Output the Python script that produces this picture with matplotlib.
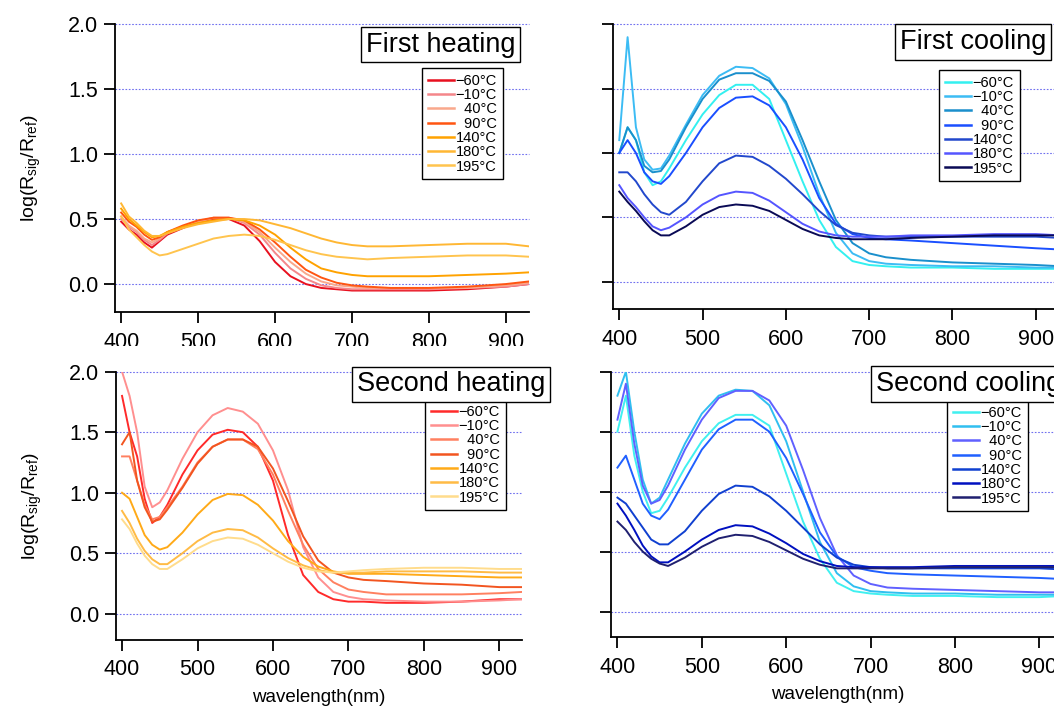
import matplotlib
matplotlib.use('Agg')
import matplotlib.pyplot as plt
from matplotlib.transforms import Bbox, TransformedBbox

plt.rcParams['font.family'] = ['Liberation Sans', 'DejaVu Sans']

# wavelength grid (nm) shared by all spectra
wl = [400, 410, 420, 430, 440, 450, 460, 480, 500, 520, 540, 560, 580,
      600, 620, 640, 660, 680, 700, 720, 750, 800, 850, 900, 930]

temps = ['\u221260\u00b0C', '\u221210\u00b0C', '\u200740\u00b0C', '\u200790\u00b0C',
         '140\u00b0C', '180\u00b0C', '195\u00b0C']

# First heating
fh_vals = [
    [0.48, 0.42, 0.38, 0.32, 0.28, 0.33, 0.38, 0.43, 0.48, 0.50, 0.50, 0.45, 0.33,
     0.17, 0.06, 0.00, -0.03, -0.04, -0.05, -0.05, -0.05, -0.05, -0.04, -0.02, 0.00],
    [0.50, 0.44, 0.40, 0.34, 0.30, 0.34, 0.39, 0.44, 0.48, 0.51, 0.51, 0.47, 0.38,
     0.24, 0.12, 0.04, -0.01, -0.03, -0.04, -0.04, -0.04, -0.04, -0.03, -0.02, 0.00],
    [0.52, 0.45, 0.41, 0.35, 0.32, 0.35, 0.40, 0.44, 0.48, 0.51, 0.51, 0.48, 0.40,
     0.28, 0.17, 0.08, 0.02, -0.01, -0.02, -0.03, -0.03, -0.03, -0.03, -0.01, 0.01],
    [0.55, 0.48, 0.44, 0.38, 0.34, 0.36, 0.40, 0.45, 0.49, 0.51, 0.51, 0.49, 0.42,
     0.32, 0.21, 0.11, 0.05, 0.01, -0.01, -0.02, -0.03, -0.03, -0.02, 0.00, 0.02],
    [0.58, 0.50, 0.45, 0.40, 0.36, 0.37, 0.40, 0.44, 0.47, 0.49, 0.50, 0.49, 0.45,
     0.38, 0.28, 0.19, 0.12, 0.09, 0.07, 0.06, 0.06, 0.06, 0.07, 0.08, 0.09],
    [0.62, 0.52, 0.47, 0.41, 0.37, 0.37, 0.39, 0.43, 0.46, 0.48, 0.50, 0.50, 0.49,
     0.46, 0.43, 0.39, 0.35, 0.32, 0.30, 0.29, 0.29, 0.30, 0.31, 0.31, 0.29],
    [0.52, 0.42, 0.36, 0.30, 0.25, 0.22, 0.23, 0.27, 0.31, 0.35, 0.37, 0.38, 0.37,
     0.34, 0.30, 0.26, 0.23, 0.21, 0.20, 0.19, 0.20, 0.21, 0.22, 0.22, 0.21],
]
fh_colors = ['#e8101f', '#f4868a', '#f9a88c', '#ff5511', '#ffa200', '#ffb733', '#ffc44e']

# First cooling
fc_vals = [
    [1.00, 1.20, 1.10, 0.85, 0.75, 0.78, 0.88, 1.10, 1.30, 1.45, 1.53, 1.53, 1.42,
     1.10, 0.78, 0.48, 0.27, 0.16, 0.13, 0.12, 0.11, 0.11, 0.10, 0.10, 0.10],
    [1.10, 1.90, 1.20, 0.95, 0.87, 0.88, 0.98, 1.22, 1.45, 1.60, 1.67, 1.66, 1.58,
     1.38, 1.05, 0.68, 0.38, 0.22, 0.16, 0.14, 0.13, 0.12, 0.12, 0.11, 0.11],
    [1.00, 1.20, 1.10, 0.90, 0.85, 0.86, 0.95, 1.20, 1.42, 1.57, 1.62, 1.62, 1.56,
     1.40, 1.10, 0.78, 0.48, 0.30, 0.22, 0.19, 0.17, 0.15, 0.14, 0.13, 0.12],
    [1.00, 1.10, 1.00, 0.85, 0.78, 0.76, 0.82, 1.00, 1.20, 1.35, 1.43, 1.44, 1.37,
     1.20, 0.95, 0.65, 0.45, 0.37, 0.34, 0.33, 0.32, 0.30, 0.28, 0.26, 0.25],
    [0.85, 0.85, 0.78, 0.68, 0.60, 0.54, 0.52, 0.62, 0.78, 0.92, 0.98, 0.97, 0.90,
     0.80, 0.68, 0.55, 0.44, 0.38, 0.36, 0.35, 0.35, 0.35, 0.35, 0.35, 0.34],
    [0.75, 0.65, 0.58, 0.50, 0.43, 0.40, 0.42, 0.50, 0.60, 0.67, 0.70, 0.69, 0.63,
     0.54, 0.45, 0.39, 0.36, 0.35, 0.35, 0.35, 0.36, 0.36, 0.37, 0.37, 0.36],
    [0.70, 0.62, 0.55, 0.47, 0.40, 0.36, 0.36, 0.43, 0.52, 0.58, 0.60, 0.59, 0.55,
     0.48, 0.41, 0.36, 0.34, 0.33, 0.33, 0.33, 0.34, 0.35, 0.36, 0.36, 0.36],
]
fc_colors = ['#33f0f0', '#3cbcf4', '#1a8fcc', '#1a4fff', '#2248cc', '#5555ff', '#0a0a55']

# Second heating
sh_vals = [
    [1.80, 1.50, 1.30, 0.95, 0.75, 0.80, 0.90, 1.15, 1.35, 1.48, 1.52, 1.50, 1.38,
     1.10, 0.65, 0.32, 0.18, 0.12, 0.10, 0.10, 0.09, 0.09, 0.10, 0.12, 0.12],
    [2.00, 1.80, 1.50, 1.05, 0.88, 0.92, 1.02, 1.28, 1.50, 1.64, 1.70, 1.67, 1.57,
     1.35, 1.02, 0.55, 0.30, 0.18, 0.14, 0.12, 0.11, 0.10, 0.10, 0.11, 0.12],
    [1.30, 1.30, 1.10, 0.90, 0.78, 0.80, 0.88, 1.05, 1.25, 1.38, 1.44, 1.44, 1.36,
     1.15, 0.85, 0.57, 0.37, 0.26, 0.20, 0.18, 0.16, 0.16, 0.16, 0.17, 0.18],
    [1.40, 1.50, 1.10, 0.88, 0.76, 0.78, 0.86, 1.04, 1.24, 1.38, 1.44, 1.44, 1.38,
     1.20, 0.93, 0.64, 0.44, 0.34, 0.30, 0.28, 0.27, 0.25, 0.24, 0.22, 0.22],
    [1.00, 0.95, 0.80, 0.65, 0.57, 0.53, 0.55, 0.67, 0.82, 0.94, 0.99, 0.98, 0.90,
     0.77, 0.60, 0.47, 0.39, 0.35, 0.33, 0.33, 0.33, 0.32, 0.31, 0.30, 0.30],
    [0.85, 0.75, 0.62, 0.52, 0.45, 0.41, 0.41, 0.50, 0.60, 0.67, 0.70, 0.69, 0.63,
     0.54, 0.46, 0.40, 0.36, 0.34, 0.34, 0.34, 0.35, 0.35, 0.35, 0.34, 0.34],
    [0.78, 0.70, 0.58, 0.48, 0.41, 0.37, 0.37, 0.45, 0.54, 0.60, 0.63, 0.62, 0.57,
     0.50, 0.43, 0.38, 0.35, 0.34, 0.35, 0.36, 0.37, 0.38, 0.38, 0.37, 0.37],
]
sh_colors = ['#ff2a2a', '#ff8f8f', '#ff8060', '#f25520', '#ffaa18', '#ffbb45', '#ffdc8c']

# Second cooling
sc_vals = [
    [1.50, 1.80, 1.30, 1.00, 0.82, 0.84, 0.95, 1.20, 1.42, 1.57, 1.64, 1.64, 1.55,
     1.15, 0.75, 0.44, 0.24, 0.17, 0.15, 0.14, 0.13, 0.13, 0.12, 0.12, 0.13],
    [1.80, 2.00, 1.50, 1.10, 0.90, 0.95, 1.10, 1.40, 1.65, 1.80, 1.85, 1.84, 1.72,
     1.42, 1.00, 0.58, 0.32, 0.21, 0.17, 0.16, 0.15, 0.15, 0.14, 0.14, 0.14],
    [1.60, 1.90, 1.40, 1.05, 0.90, 0.93, 1.05, 1.35, 1.60, 1.78, 1.84, 1.84, 1.76,
     1.55, 1.18, 0.78, 0.47, 0.30, 0.23, 0.20, 0.19, 0.18, 0.17, 0.16, 0.16],
    [1.20, 1.30, 1.10, 0.90, 0.80, 0.77, 0.85, 1.10, 1.35, 1.52, 1.60, 1.60, 1.50,
     1.28, 0.98, 0.66, 0.46, 0.37, 0.34, 0.32, 0.31, 0.30, 0.29, 0.28, 0.27],
    [0.95, 0.90, 0.80, 0.70, 0.60, 0.56, 0.56, 0.67, 0.84, 0.98, 1.05, 1.04, 0.96,
     0.84, 0.70, 0.56, 0.45, 0.39, 0.37, 0.36, 0.36, 0.36, 0.36, 0.36, 0.35],
    [0.90, 0.80, 0.68, 0.55, 0.46, 0.41, 0.41, 0.50, 0.60, 0.68, 0.72, 0.71, 0.65,
     0.57, 0.48, 0.42, 0.38, 0.37, 0.37, 0.37, 0.37, 0.38, 0.38, 0.38, 0.38],
    [0.75, 0.68, 0.58, 0.50, 0.44, 0.40, 0.38, 0.45, 0.54, 0.61, 0.64, 0.63, 0.58,
     0.51, 0.44, 0.39, 0.36, 0.36, 0.36, 0.36, 0.36, 0.37, 0.37, 0.37, 0.37],
]
sc_colors = ['#40f0f0', '#30bff0', '#6060ff', '#2060ff', '#1040d0', '#0010c0', '#202070']

W, H = 1054, 710
fig = plt.figure(figsize=(W / 100, H / 100), dpi=100)


def px(x0, y0, x1, y1):
    # pixel box (left, top, right, bottom) -> figure fraction rect
    return [x0 / W, 1 - y1 / H, (x1 - x0) / W, (y1 - y0) / H]


panels = [
    # rect, ylim bottom, data, colors, title, title pos, legend pos, ylabels
    (px(115, 24, 529, 312), -0.215, fh_vals, fh_colors, 'First heating', (366, 44.5), (422, 68), True),
    (px(612.6, 24.3, 1060.8, 309), -0.212, fc_vals, fc_colors, 'First cooling', (900, 42), (939, 70), False),
    (px(116, 371.7, 522, 640), -0.217, sh_vals, sh_colors, 'Second heating', (357, 384.5), (425, 399), True),
    (px(610.7, 371.7, 1064.6, 637.3), -0.215, sc_vals, sc_colors, 'Second cooling', (876, 384), (947, 400), False),
]

ylab = r'log(R$\mathregular{_{sig}}$/R$\mathregular{_{ref}}$)'

for i, (rect, ybot, vals, cols, title, tpos, lpos, showy) in enumerate(panels):
    ax = fig.add_axes(rect)
    for v, c, t in zip(vals, cols, temps):
        ax.plot(wl, v, color=c, lw=1.4, label=t)
    for g in [0.0, 0.5, 1.0, 1.5, 2.0]:
        ax.axhline(g, color='#6f6fef', lw=0.8, ls=(0, (1.5, 1.5)), zorder=0, clip_on=False)
    ax.set_xlim(392, 930)
    ax.set_ylim(ybot, 2.0)
    ax.set_xticks([400, 500, 600, 700, 800, 900])
    ax.set_yticks([0.0, 0.5, 1.0, 1.5, 2.0])
    ax.spines['top'].set_visible(False)
    ax.spines['right'].set_visible(False)
    ax.spines['left'].set_linewidth(1.3)
    ax.spines['bottom'].set_linewidth(1.3)
    ax.tick_params(axis='x', direction='out', length=8, width=1.3,
                   pad=6.5 if i < 2 else 6, labelsize=15.5)
    ax.tick_params(axis='y', direction='out', length=8, width=1.3, pad=4, labelsize=15.5,
                   labelleft=showy)
    if showy:
        ax.set_yticklabels(['0.0', '0.5', '1.0', '1.5', '2.0'])
        ax.set_ylabel(ylab, fontsize=14, labelpad=18)
    if i >= 2:
        ax.set_xlabel('wavelength(nm)', fontsize=13.5, labelpad=6)
    else:
        # x tick labels of the top row are cut off by the lower panels
        clip = TransformedBbox(Bbox([[0, 1 - 346 / H], [1, 1]]), fig.transFigure)
        for lab in ax.get_xticklabels():
            lab.set_clip_box(clip)
            lab.set_clip_on(True)

    leg = ax.legend(loc='upper left', bbox_to_anchor=(lpos[0] / W, 1 - lpos[1] / H),
                    bbox_transform=fig.transFigure, borderaxespad=0, fontsize=10.5,
                    handlelength=1.8, handletextpad=0.1, labelspacing=0.02,
                    borderpad=0.4, fancybox=False, framealpha=1)
    leg.get_frame().set_edgecolor('black')
    leg.get_frame().set_linewidth(1.0)
    for h in leg.get_lines():
        h.set_linewidth(1.8)
    leg.set_zorder(5)

    fig.text(tpos[0] / W, 1 - tpos[1] / H, title, fontsize=19.5, ha='left', va='center',
             zorder=10,
             bbox=dict(boxstyle='square,pad=0.18', facecolor='white', edgecolor='black', lw=1.0))

fig.savefig('out.png', dpi=100)
